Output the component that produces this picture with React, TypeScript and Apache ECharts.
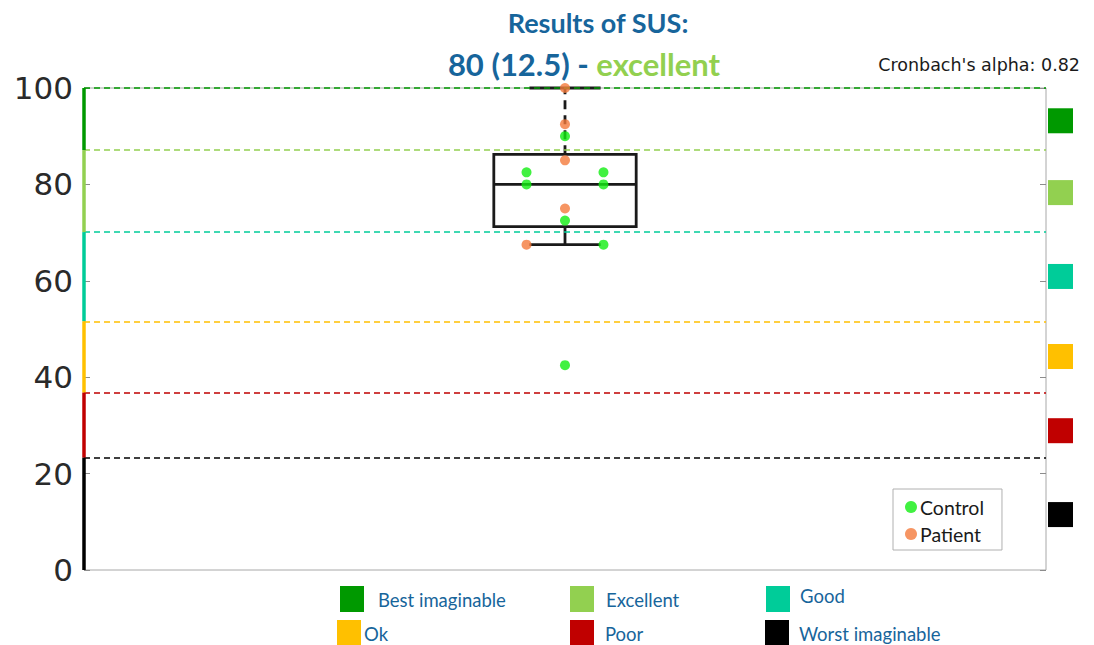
import React, { useEffect, useRef } from "react";
import * as echarts from "echarts";

// ---- data ----
const yTicks = [0, 20, 40, 60, 80, 100];
const bandNames = ["Best imaginable", "Excellent", "Good", "Ok", "Poor", "Worst imaginable"];
const bandColors = ["#009900", "#92d050", "#00cc99", "#ffc000", "#c00000", "#000000"];
const bandUpper = [100, 87.1, 70.1, 51.6, 36.8, 23.3];
const bandLower = [87.1, 70.1, 51.6, 36.8, 23.3, 0];
const bandMarkerY = [93.2, 78.3, 60.9, 44.3, 28.9, 11.5];

// box: [x, lower whisker, Q1, median, Q3, upper whisker]
const boxStats = [1, 67.5, 71.25, 80, 86.25, 100];

const controlX = [0.96, 0.96, 1.04, 1.04, 1, 1, 1.04, 1];
const controlY = [82.5, 80, 82.5, 80, 90, 72.5, 67.5, 42.5];
const patientX = [1, 1, 1, 1, 0.96];
const patientY = [100, 92.5, 85, 75, 67.5];

const titleLine1 = "Results of SUS:";
const titleScore = "80 (12.5) - ";
const titleRating = "excellent";
const alphaText = "Cronbach's alpha: 0.82";

const BLUE = "#17659b";
const FONT = "Lato";

export default function App() {
  const ref = useRef<HTMLDivElement>(null);
  useEffect(() => {
    if (!ref.current) return;
    const chart = echarts.init(ref.current, undefined, { renderer: "svg" });

    const legendPos = [
      { sx: 340, sy: 586, tx: 378, ty: 600 },
      { sx: 570, sy: 586, tx: 606, ty: 600 },
      { sx: 766, sy: 586, tx: 800, ty: 596 },
      { sx: 337, sy: 620, tx: 364, ty: 634 },
      { sx: 570, sy: 620, tx: 605, ty: 634 },
      { sx: 765, sy: 620, tx: 799, ty: 634 },
    ];
    const bottomLegend: any[] = [];
    bandNames.forEach((n, i) => {
      const p = legendPos[i];
      bottomLegend.push({
        type: "rect",
        shape: { x: p.sx, y: p.sy, width: 24, height: 26 },
        style: { fill: bandColors[i] },
      });
      bottomLegend.push({
        type: "text",
        x: p.tx,
        y: p.ty,
        style: {
          text: n,
          fill: BLUE,
          font: `18.5px ${FONT}`,
          textVerticalAlign: "middle",
        },
      });
    });

    const option: any = {
      animation: false,
      grid: {
        left: 84,
        right: 48,
        top: 88,
        bottom: 75,
        show: true,
        borderColor: "#a8a8a8",
        borderWidth: 1,
        backgroundColor: "#fff",
      },
      xAxis: {
        type: "value",
        min: 0.5,
        max: 1.5,
        show: false,
      },
      yAxis: [
        {
          type: "value",
          min: 0,
          max: 100,
          interval: 20,
          axisLine: { show: false },
          axisTick: { show: true, inside: true, length: 6, lineStyle: { color: "#8c8c8c" } },
          splitLine: { show: false },
          axisLabel: {
            fontSize: 31,
            color: "#2a2a2a",
            fontFamily: "DejaVu Sans",
            margin: 11,
            formatter: (v: number) => (yTicks.includes(v) ? String(v) : ""),
          },
        },
        {
          type: "value",
          position: "right",
          min: 0,
          max: 100,
          interval: 20,
          axisLine: { show: false },
          axisTick: { show: true, inside: true, length: 6, lineStyle: { color: "#8c8c8c" } },
          splitLine: { show: false },
          axisLabel: { show: false },
        },
      ],
      legend: {
        data: ["Control", "Patient"],
        orient: "vertical",
        left: 893,
        top: 489,
        padding: [8, 18, 6, 12],
        itemGap: 7,
        itemWidth: 12,
        itemHeight: 12,
        icon: "circle",
        borderColor: "#b0b0b0",
        borderWidth: 1,
        backgroundColor: "#fff",
        textStyle: { fontSize: 19.5, fontFamily: FONT, color: "#1a1a1a", padding: [0, 0, 0, -2] },
      },
      graphic: [
        {
          type: "text",
          x: 598,
          y: 22,
          style: {
            text: titleLine1,
            fill: BLUE,
            font: `bold 27px ${FONT}`,
            textAlign: "center",
            textVerticalAlign: "middle",
          },
        },
        {
          type: "text",
          x: 584,
          y: 64,
          style: {
            text: `{a|${titleScore}}{b|${titleRating}}`,
            textAlign: "center",
            textVerticalAlign: "middle",
            rich: {
              a: { fill: BLUE, color: BLUE, fontSize: 31, fontWeight: "bold", fontFamily: FONT },
              b: { fill: "#92d050", color: "#92d050", fontSize: 31, fontWeight: "bold", fontFamily: FONT },
            },
          },
        },
        {
          type: "text",
          x: 1080,
          y: 65,
          style: {
            text: alphaText,
            fill: "#1a1a1a",
            font: `17.5px DejaVu Sans`,
            textAlign: "right",
            textVerticalAlign: "middle",
          },
        },
        ...bottomLegend,
      ],
      series: [
        {
          type: "line",
          data: [],
          silent: true,
          markLine: {
            silent: true,
            symbol: "none",
            label: { show: false },
            animation: false,
            data: [
              ...bandUpper.map((v, i) => ({
                yAxis: v,
                lineStyle: { color: bandColors[i], type: [6, 4], width: 1.5 },
              })),
              ...bandUpper.map((v, i) => [
                { coord: [0.5, v], lineStyle: { color: bandColors[i], type: "solid", width: 3.5 } },
                { coord: [0.5, bandLower[i]] },
              ]),
            ],
          },
        },
        {
          type: "custom",
          name: "bandMarkers",
          clip: false,
          silent: true,
          data: bandMarkerY.map((v) => [1.5, v]),
          renderItem: (params: any, api: any) => {
            const p = api.coord([api.value(0), api.value(1)]);
            return {
              type: "rect",
              shape: { x: p[0] + 2, y: p[1] - 12.5, width: 25, height: 25 },
              style: { fill: bandColors[params.dataIndex] },
            };
          },
        },
        {
          type: "custom",
          name: "box",
          clip: false,
          silent: true,
          z: 3,
          data: [boxStats],
          renderItem: (_params: any, api: any) => {
            const x = api.value(0);
            const lo = api.value(1);
            const q1 = api.value(2);
            const med = api.value(3);
            const q3 = api.value(4);
            const hi = api.value(5);
            const hw = 0.074;
            const cw = 0.037;
            const tl = api.coord([x - hw, q3]);
            const br = api.coord([x + hw, q1]);
            const mL = api.coord([x - hw, med]);
            const mR = api.coord([x + hw, med]);
            const cQ1 = api.coord([x, q1]);
            const cLo = api.coord([x, lo]);
            const cQ3 = api.coord([x, q3]);
            const cHi = api.coord([x, hi]);
            const loL = api.coord([x - cw, lo]);
            const loR = api.coord([x + cw, lo]);
            const hiL = api.coord([x - cw, hi]);
            const hiR = api.coord([x + cw, hi]);
            const st = { stroke: "#1a1a1a", lineWidth: 2.8, fill: "none" };
            return {
              type: "group",
              children: [
                { type: "rect", shape: { x: tl[0], y: tl[1], width: br[0] - tl[0], height: br[1] - tl[1] }, style: st },
                { type: "line", shape: { x1: mL[0], y1: mL[1], x2: mR[0], y2: mR[1] }, style: st },
                { type: "line", shape: { x1: cQ1[0], y1: cQ1[1], x2: cLo[0], y2: cLo[1] }, style: st },
                { type: "line", shape: { x1: loL[0], y1: loL[1], x2: loR[0], y2: loR[1] }, style: st },
                { type: "line", shape: { x1: cQ3[0], y1: cQ3[1], x2: cHi[0], y2: cHi[1] }, style: { ...st, lineDash: [9, 6] } },
                { type: "line", shape: { x1: hiL[0], y1: hiL[1], x2: hiR[0], y2: hiR[1] }, style: st },
              ],
            };
          },
        },
        {
          type: "scatter",
          name: "Control",
          z: 5,
          symbolSize: 10,
          itemStyle: { color: "#11ee11" },
          data: controlX.map((x, i) => [x, controlY[i]]),
        },
        {
          type: "scatter",
          name: "Patient",
          z: 5,
          symbolSize: 10,
          itemStyle: { color: "#f47a3c" },
          data: patientX.map((x, i) => [x, patientY[i]]),
        },
      ],
    };
    chart.setOption(option);
    return () => chart.dispose();
  }, []);

  return <div ref={ref} style={{ width: 1094, height: 645, position: "absolute", left: 0, top: 0 }} />;
}
